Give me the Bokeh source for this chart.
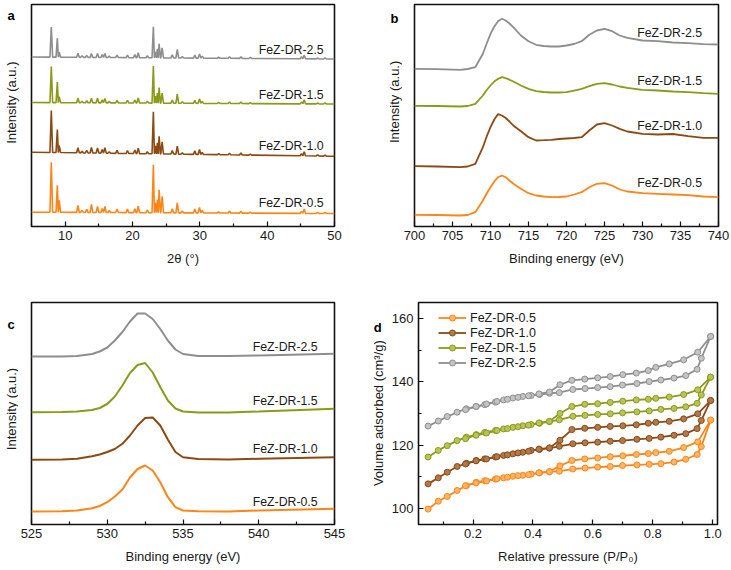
import numpy as np
from bokeh.plotting import figure
from bokeh.layouts import row, column
from bokeh.models import Range1d, FixedTicker, Legend, LegendItem, PrintfTickFormatter
from bokeh.core.properties import value
from bokeh.embed import file_html
from bokeh.resources import INLINE

FONT = "Liberation Sans"
INK = "#1a1a1a"
SERIES = ["FeZ-DR-0.5", "FeZ-DR-1.0", "FeZ-DR-1.5", "FeZ-DR-2.5"]
COLORS = ["#FF8517", "#8C4A12", "#8B9A1A", "#8E8E8E"]
FILLS = ["#FFB466", "#B07A4E", "#B8C35A", "#C4C4C4"]

# ---------------- (a) XRD ----------------
XRD_PEAKS = [7.94, 8.84, 9.12, 11.90, 12.50, 13.20, 13.90, 14.80, 15.50, 15.90, 16.55, 17.70,
             19.25, 20.35, 20.85, 22.20, 23.10, 23.40, 23.70, 23.95, 24.40, 25.90, 26.65, 27.40,
             29.25, 29.95, 30.35, 32.80, 34.40, 36.10, 37.50, 45.10, 45.50, 47.50, 48.60]
XRD_H_05 = [50, 27, 12, 7, 2, 3, 8, 6, 4, 6, 2, 3.5, 3.5, 4, 6.5, 2.5, 48, 10, 13, 23, 16.5, 4, 10, 2,
            4, 5.5, 2.5, 1, 2, 2, 1, 2, 4.5, 1, 1]
XRD_H_10 = [42, 23, 7, 5, 1.5, 2.5, 5.5, 5, 3.5, 5.5, 1.5, 3, 3, 3.5, 5.5, 2, 42, 8, 11, 17.5, 12, 3.5, 8, 1.5,
            3.5, 5, 2, 1, 1.5, 2, 1, 2, 4, 1, 1]
XRD_H_15 = [36, 20.5, 6, 4.5, 1.5, 2, 4.5, 4.5, 3, 4.5, 1.5, 2.5, 2.5, 3, 5, 2, 37, 7, 10, 15.5, 10, 3, 9, 1.5,
            3, 4.5, 2, 1, 1.5, 1.5, 1, 2, 4, 1, 1]
XRD_H_25 = [30, 19, 5, 4, 1.5, 2, 4, 4, 3, 4, 1.5, 2.5, 2.5, 3, 5, 2, 31, 6, 9, 14, 10, 3, 8.5, 1.5,
            3, 4, 2, 1, 1.5, 1.5, 1, 2, 3.5, 1, 1]
XRD_BASE_X = [5.0, 50.0]
XRD_BASE_05 = [14.3, 13.0]
XRD_BASE_10 = [74.3, 70.3]
XRD_BASE_15 = [124.0, 122.5]
XRD_BASE_25 = [169.5, 167.5]
XRD_LABEL_X = 38.75
XRD_LABEL_Y = [23.3, 80.3, 132.0, 177.0]

# ---------------- (b) Fe 2p XPS ----------------
FE_BE = [700, 703, 706, 707, 708, 709, 709.5, 710, 710.5, 711, 711.5, 712, 712.5, 713, 714, 715, 716,
         717, 718, 719, 720, 721, 722, 723, 724, 725, 726, 727, 728, 730, 732, 734, 736, 738, 740]
FE_05 = [11.7, 11.5, 11, 11.5, 14.3, 26, 33, 39.3, 45, 49.3, 51, 49.3, 46, 42.7, 37.7, 33.3, 31,
         30, 29.3, 29.5, 30, 32, 34.3, 39.3, 42.7, 43.3, 41, 37, 35, 33.3, 32.7, 32, 31.3, 30, 29.3]
FE_10 = [60.3, 60, 59.3, 60, 62.7, 79.3, 90, 99.3, 107, 112.5, 111, 108.5, 105, 101, 95.3, 89.3, 86,
         86.3, 86.7, 87.5, 88, 88.5, 89.3, 96, 102, 103.3, 101, 97.7, 95, 92.7, 92, 92.5, 90.3, 88.7, 88.7]
FE_15 = [120.7, 120.5, 120, 120.5, 122.7, 131, 136.5, 141, 145, 147.7, 149.3, 148.3, 146.8, 145, 141, 137.7, 135.3,
         134.5, 134, 134, 134.3, 135.8, 137.7, 140.3, 142.7, 143.3, 142, 140, 138.7, 136.7, 136, 135, 134.3, 133.3, 132.7]
FE_25 = [157.7, 157.3, 156.7, 157.5, 159.3, 172.7, 183, 192.7, 200, 205.3, 207.7, 206, 203, 199.3, 191, 185.3, 181.7,
         180.5, 180, 180, 181, 182.5, 185.3, 191.7, 196, 197.7, 195.3, 191, 188.7, 186, 185.3, 184, 183.3, 182.3, 182]
FE_LABEL_X = 729.3
FE_LABEL_Y = [43.3, 101.0, 146.0, 193.7]

# ---------------- (c) O 1s XPS ----------------
O_BE = [525, 527, 528, 529, 529.5, 530, 530.5, 531, 531.5, 532, 532.5, 533, 533.5, 534, 534.5, 535,
        536, 538, 540, 545]
O_05 = [13, 13.3, 14, 16.3, 18.5, 22.3, 28, 35, 47, 55.5, 59, 54, 42.3, 27.3, 17.3, 14, 13.2, 13, 14, 15.7]
O_10 = [64.7, 65, 65.7, 68.3, 70, 72.5, 75.5, 80.7, 89, 99, 106.5, 107, 99, 85, 72.5, 67.3, 65.5, 65, 65.7, 67.3]
O_15 = [112.3, 112.5, 113, 114.5, 116.5, 120.5, 128, 139, 151.5, 159.5, 161.5, 152, 137.5, 124, 116, 113,
        112, 112, 113, 115.7]
O_25 = [168, 168, 168.5, 170.5, 173, 177, 184, 192.5, 203, 211, 211, 205.5, 195.5, 184, 175, 170.5,
        168.5, 168.5, 169, 170.7]
O_LABEL_X = 539.6
O_LABEL_Y = [22.3, 75.7, 124.0, 178.0]

# ---------------- (d) N2 isotherms ----------------
ADS_P = [0.050, 0.084, 0.114, 0.147, 0.178, 0.211, 0.239, 0.275, 0.302, 0.333, 0.366, 0.394, 0.422, 0.455,
         0.488, 0.533, 0.574, 0.616, 0.658, 0.699, 0.747, 0.788, 0.827, 0.871, 0.910, 0.948, 0.962, 0.993]
ADS_05 = [99.7, 102.2, 103.7, 105.6, 107.1, 108.2, 108.7, 109.2, 109.6, 110.1, 110.4, 110.8, 111.2, 111.5,
          111.7, 112.4, 112.7, 113.0, 113.2, 113.5, 113.7, 113.9, 114.1, 114.6, 115.5, 117.0, 119.5, 127.9]
ADS_10 = [107.7, 109.6, 111.4, 113.2, 114.2, 115.1, 115.6, 116.2, 116.7, 117.2, 117.7, 118.3, 118.6, 119.0,
          119.6, 120.4, 120.7, 120.9, 121.2, 121.4, 121.8, 122.1, 122.5, 123.1, 123.6, 125.2, 127.8, 134.1]
ADS_15 = [116.2, 118.3, 119.8, 121.4, 122.5, 123.3, 124.0, 124.6, 125.1, 125.6, 126.1, 126.5, 126.9, 127.4,
          128.0, 129.1, 129.4, 129.7, 129.9, 130.2, 130.5, 130.8, 131.3, 131.6, 132.1, 133.2, 135.9, 141.5]
ADS_25 = [126.0, 127.6, 129.0, 130.4, 131.5, 132.2, 132.8, 133.6, 134.3, 134.9, 135.4, 135.7, 136.0, 136.4,
          136.6, 137.6, 137.9, 138.2, 138.5, 139.0, 139.5, 140.1, 140.6, 141.2, 142.0, 144.0, 147.5, 154.4]
DES_P = [0.993, 0.950, 0.903, 0.855, 0.810, 0.785, 0.745, 0.700, 0.658, 0.616, 0.573, 0.530, 0.490, 0.455,
         0.420, 0.385, 0.350, 0.315, 0.280, 0.245, 0.210, 0.175]
DES_05 = [127.9, 121.0, 119.2, 118.0, 117.6, 117.3, 117.0, 116.6, 116.3, 115.9, 115.6, 115.1, 113.4, 111.6,
          111.2, 110.6, 110.3, 109.8, 109.3, 108.6, 108.0, 107.1]
DES_10 = [134.1, 129.9, 128.3, 127.5, 127.2, 126.9, 126.4, 126.1, 125.9, 125.6, 125.3, 124.9, 121.5, 119.1,
          118.7, 118.0, 117.5, 116.9, 116.3, 115.6, 115.0, 114.0]
DES_15 = [141.5, 137.5, 136.0, 135.2, 134.8, 134.5, 134.3, 133.9, 133.5, 133.1, 132.9, 132.2, 130.0, 127.5,
          127.0, 126.3, 125.8, 125.2, 124.6, 123.8, 123.1, 122.0]
DES_25 = [154.4, 149.4, 147.0, 145.7, 144.6, 143.6, 142.8, 142.3, 141.7, 141.3, 140.9, 140.5, 139.1, 136.8,
          136.2, 135.6, 135.1, 134.5, 133.8, 133.0, 132.2, 131.2]

ROW_H = 285


def base_fig(w, bl, br, bt, bb, xr, yr, with_y=False):
    p = figure(width=w, height=ROW_H, x_range=Range1d(*xr), y_range=Range1d(*yr),
               output_backend="svg", toolbar_location=None, tools="", title=None,
               y_axis_type="linear" if with_y else None,
               min_border_left=bl, min_border_right=br, min_border_top=bt, min_border_bottom=bb)
    p.grid.visible = False
    p.outline_line_color = "#111111"
    p.outline_line_width = 1.6
    p.background_fill_color = "white"
    p.border_fill_color = "white"
    for ax in p.axis:
        ax.axis_line_color = None
        ax.major_tick_in = 5
        ax.major_tick_out = 0
        ax.minor_tick_in = 3
        ax.minor_tick_out = 0
        ax.major_tick_line_color = "#111111"
        ax.minor_tick_line_color = "#111111"
        ax.major_tick_line_width = 1.2
        ax.minor_tick_line_width = 1.2
        ax.major_label_text_font = FONT
        ax.major_label_text_font_size = "13px"
        ax.major_label_text_color = INK
        ax.axis_label_text_font = FONT
        ax.axis_label_text_font_size = "13px"
        ax.axis_label_text_font_style = "normal"
        ax.axis_label_text_color = INK
        ax.major_label_standoff = 4
        ax.axis_label_standoff = 8
    return p


def side_strip(w, letter, letter_x, letter_base, title, title_x, title_y):
    """Narrow blank strip holding the panel letter and the y-axis title (positions in px from strip top-left)."""
    s = figure(width=w, height=ROW_H, x_range=Range1d(0, w), y_range=Range1d(0, ROW_H),
               output_backend="svg", toolbar_location=None, tools="", title=None,
               x_axis_type=None, y_axis_type=None,
               min_border_left=0, min_border_right=0, min_border_top=0, min_border_bottom=0)
    s.grid.visible = False
    s.outline_line_color = None
    s.background_fill_color = "white"
    s.border_fill_color = "white"
    s.text(x=[letter_x], y=[ROW_H - letter_base], text=[letter], text_font=value(FONT),
           text_font_style="bold", text_font_size=value("13px"), text_color="#000000",
           text_align="left", text_baseline="alphabetic")
    s.text(x=[title_x], y=[ROW_H - title_y], text=[title], angle=np.pi / 2, text_font=value(FONT),
           text_font_size=value("13px"), text_color=INK, text_align="center", text_baseline="middle")
    return s


def series_labels(p, x, ys):
    p.text(x=[x] * len(ys), y=ys, text=SERIES, text_font=value(FONT), text_font_size=value("12.3px"),
           text_color=INK, text_baseline="middle", text_align="left")


def xrd_curve(heights, base):
    xs = [XRD_BASE_X[0]]
    ys = [base[0]]
    n = len(XRD_PEAKS)
    for i, (pk, h) in enumerate(zip(XRD_PEAKS, heights)):
        gl = pk - XRD_PEAKS[i - 1] if i > 0 else 1.0
        gr = XRD_PEAKS[i + 1] - pk if i < n - 1 else 1.0
        hl, hr = min(0.2, gl / 2), min(0.2, gr / 2)
        b = float(np.interp(pk, XRD_BASE_X, base))
        xs += [pk - hl, pk, pk + hr]
        ys += [b, b + h, b]
    xs.append(XRD_BASE_X[1])
    ys.append(base[1])
    return xs, ys


# ---------- panel a ----------
sa = side_strip(20, "a", 7, 14, "Intensity (a.u.)", 11, 126)
pa = base_fig(345, 11, 31, 4, 59, (5, 50), (0, 222))
pa.xaxis.ticker = FixedTicker(ticks=[10, 20, 30, 40, 50], minor_ticks=[5, 15, 25, 35, 45])
pa.xaxis.axis_label = "2θ (°)"
for hts, base, c in zip([XRD_H_05, XRD_H_10, XRD_H_15, XRD_H_25],
                        [XRD_BASE_05, XRD_BASE_10, XRD_BASE_15, XRD_BASE_25], COLORS):
    xs, ys = xrd_curve(hts, base)
    pa.line(xs, ys, line_color=c, line_width=1.6)
series_labels(pa, XRD_LABEL_X, XRD_LABEL_Y)

# ---------- panel b ----------
sb = side_strip(37, "b", 25, 18.3, "Intensity (a.u.)", 29.2, 125)
pb = base_fig(329, 12, 13, 4, 59, (700, 740), (0, 222))
pb.xaxis.ticker = FixedTicker(ticks=list(range(700, 741, 5)),
                              minor_ticks=[702.5 + 5 * i for i in range(8)])
pb.xaxis.axis_label = "Binding energy (eV)"
for ys, c in zip([FE_05, FE_10, FE_15, FE_25], COLORS):
    pb.line(FE_BE, ys, line_color=c, line_width=1.8)
series_labels(pb, FE_LABEL_X, FE_LABEL_Y)

# ---------- panel c ----------
sc = side_strip(18, "c", 7, 28.3, "Intensity (a.u.)", 10.5, 136.7)
pc = base_fig(328, 13, 12, 17, 46, (525, 545), (0, 222))
pc.xaxis.ticker = FixedTicker(ticks=[525, 530, 535, 540, 545], minor_ticks=[527.5, 532.5, 537.5, 542.5])
pc.xaxis.axis_label = "Binding energy (eV)"
for ys, c in zip([O_05, O_10, O_15, O_25], COLORS):
    pc.line(O_BE, ys, line_color=c, line_width=2)
series_labels(pc, O_LABEL_X, O_LABEL_Y)

# ---------- panel d ----------
sd = side_strip(42, "d", 27.3, 31.7, "Volume adsorbed (cm³/g)", 32.3, 142)
pd = base_fig(343, 29, 14, 17, 46, (0.018, 1.016), (94.82, 165.16), with_y=True)
pd.xaxis.ticker = FixedTicker(ticks=[0.2, 0.4, 0.6, 0.8, 1.0], minor_ticks=[0.1, 0.3, 0.5, 0.7, 0.9])
pd.xaxis.formatter = PrintfTickFormatter(format="%.1f")
pd.yaxis.ticker = FixedTicker(ticks=[100, 120, 140, 160], minor_ticks=[110, 130, 150])
pd.yaxis.major_label_standoff = 5
pd.xaxis.axis_label = "Relative pressure (P/P₀)"
items = []
for name, ads, des, c, f in zip(SERIES, [ADS_05, ADS_10, ADS_15, ADS_25],
                                [DES_05, DES_10, DES_15, DES_25], COLORS, FILLS):
    l1 = pd.line(ADS_P, ads, line_color=c, line_width=1.8)
    pd.line(DES_P, des, line_color=c, line_width=1.8)
    s1 = pd.scatter(ADS_P, ads, marker="circle", size=6, fill_color=f, line_color=c, line_width=1)
    pd.scatter(DES_P, des, marker="circle", size=6, fill_color=f, line_color=c, line_width=1)
    items.append(LegendItem(label=name, renderers=[l1, s1]))
legend = Legend(items=items, location=(20, 154), orientation="vertical",
                label_text_font=FONT, label_text_font_size="12.5px", label_text_color=INK,
                glyph_width=28, glyph_height=15, label_height=15, label_standoff=4,
                spacing=0, padding=0, margin=0, border_line_color=None, background_fill_alpha=0)
pd.add_layout(legend)

layout = column(row(sa, pa, sb, pb), row(sc, pc, sd, pd))
open("out.html", "w").write(file_html(layout, INLINE))
